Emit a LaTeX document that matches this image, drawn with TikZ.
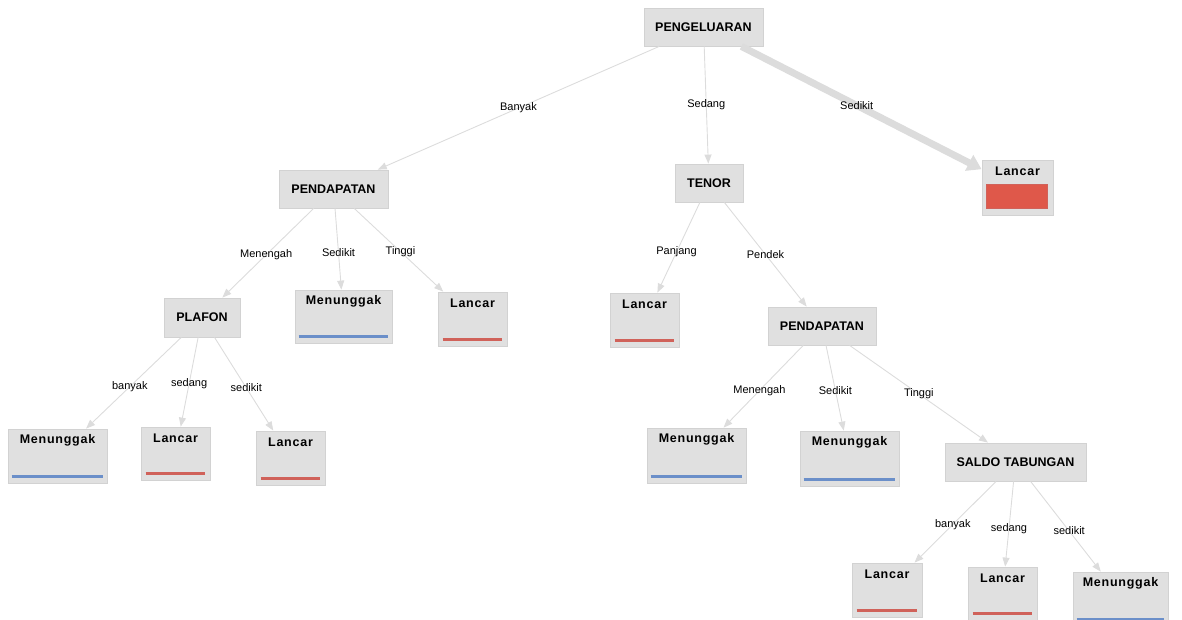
\documentclass[tikz,border=0pt]{standalone}
\usepackage{fontspec}
\setmainfont{Liberation Sans}
\usetikzlibrary{arrows.meta}
\definecolor{boxfill}{HTML}{E0E0E0}
\definecolor{boxline}{HTML}{D2D2D2}
\definecolor{edgecol}{HTML}{DCDCDC}
\definecolor{redbar}{HTML}{DF584A}
\definecolor{redline}{HTML}{D0625A}
\definecolor{blueline}{HTML}{6B8FC9}
\tikzset{
  inner/.style={draw=boxline, fill=boxfill, line width=0.8pt, inner sep=0pt,
    font=\bfseries\fontsize{12.5}{14}\selectfont},
  leaf/.style={draw=boxline, fill=boxfill, line width=0.8pt, inner sep=0pt},
  leaftext/.style={font=\bfseries\fontsize{12.5}{14}\selectfont\addfontfeature{LetterSpace=6}, inner sep=0pt},
  edge/.style={draw=edgecol, line width=0.9pt, -{Triangle[width=7pt,length=9pt]}},
  thickedge/.style={draw=edgecol, line width=7pt, -{Triangle[width=17pt,length=14pt]}},
  elabel/.style={font=\fontsize{11}{12}\selectfont, inner sep=1pt, text=black},
  rline/.style={draw=redline, line width=2.2pt},
  bline/.style={draw=blueline, line width=2.6pt},
}
\begin{document}
\begin{tikzpicture}[x=1pt,y=-1pt]
\useasboundingbox (0,0) rectangle (1182,620);
% internal nodes
\node[inner, minimum width=119, minimum height=38] (root) at (703.5,27) {PENGELUARAN};
\node[inner, minimum width=109, minimum height=38] (p1) at (333.5,189) {PENDAPATAN};
\node[inner, minimum width=68, minimum height=38] (tenor) at (709,183) {TENOR};
\node[inner, minimum width=76, minimum height=39] (plafon) at (202,317.5) {PLAFON};
\node[inner, minimum width=108, minimum height=38] (p2) at (822,326) {PENDAPATAN};
\node[inner, minimum width=141, minimum height=38] (saldo) at (1015.5,462) {SALDO TABUNGAN};
% leaves
\node[leaf, minimum width=71, minimum height=55] (lred) at (1017.5,187.5) {};
\node[leaf, minimum width=97, minimum height=53] (mA) at (343.5,316.5) {};
\node[leaf, minimum width=69, minimum height=54] (lA) at (472.5,319) {};
\node[leaf, minimum width=69, minimum height=54] (lB) at (644.5,320) {};
\node[leaf, minimum width=99, minimum height=54] (mB) at (57.5,456) {};
\node[leaf, minimum width=69, minimum height=53] (lC) at (175.5,453.5) {};
\node[leaf, minimum width=69, minimum height=54] (lD) at (290.5,458) {};
\node[leaf, minimum width=99, minimum height=55] (mC) at (696.5,455.5) {};
\node[leaf, minimum width=99, minimum height=55] (mD) at (849.5,458.5) {};
\node[leaf, minimum width=70, minimum height=54] (lE) at (887,590) {};
\node[leaf, minimum width=69, minimum height=53] (lF) at (1002.5,593.5) {};
\node[leaf, minimum width=95, minimum height=50] (mE) at (1120.5,597) {};
% leaf titles
\foreach \n/\t in {lred/Lancar, mA/Menunggak, lA/Lancar, lB/Lancar, mB/Menunggak, lC/Lancar, lD/Lancar, mC/Menunggak, mD/Menunggak, lE/Lancar, lF/Lancar, mE/Menunggak}
  \node[leaftext] (\n-t) at ([yshift=-12pt]\n.north) {\t};
% red bar
\node[draw=redline, fill=redbar, line width=0.8pt, minimum width=61, minimum height=24, inner sep=0pt] (bar) at (1016.5,196) {};
% leaf lines
\foreach \n in {lA, lB, lC, lD, lE, lF}
  \draw[rline] ([xshift=5pt,yshift=7pt]\n.south west) -- ([xshift=-5pt,yshift=7pt]\n.south east);
\foreach \n in {mA, mB, mC, mD}
  \draw[bline] ([xshift=4pt,yshift=7pt]\n.south west) -- ([xshift=-4pt,yshift=7pt]\n.south east);
\draw[bline] ([xshift=4pt,yshift=3pt]mE.south west) -- ([xshift=-4pt,yshift=3pt]mE.south east);
% edges
\draw[edge] (root) -- node[elabel, pos=0.5] {Banyak} (p1);
\draw[edge] (root) -- node[elabel, pos=0.5] {Sedang} (tenor);
\draw[thickedge] (root) -- node[elabel, pos=0.48] {Sedikit} (lred);
\draw[edge] (p1) -- node[elabel, pos=0.52] {Menengah} (plafon);
\draw[edge] (p1) -- node[elabel, pos=0.55] {Sedikit} (mA);
\draw[edge] (p1) -- node[elabel, pos=0.52] {Tinggi} (lA);
\draw[edge] (plafon) -- node[elabel, pos=0.54] {banyak} (mB);
\draw[edge] (plafon) -- node[elabel, pos=0.52] {sedang} (lC);
\draw[edge] (plafon) -- node[elabel, pos=0.54] {sedikit} (lD);
\draw[edge] (tenor) -- node[elabel, pos=0.55] {Panjang} (lB);
\draw[edge] (tenor) -- node[elabel, pos=0.5] {Pendek} (p2);
\draw[edge] (p2) -- node[elabel, pos=0.55] {Menengah} (mC);
\draw[edge] (p2) -- node[elabel, pos=0.53] {Sedikit} (mD);
\draw[edge] (p2) -- node[elabel, pos=0.5] {Tinggi} (saldo);
\draw[edge] (saldo) -- node[elabel, pos=0.53] {banyak} (lE);
\draw[edge] (saldo) -- node[elabel, pos=0.55] {sedang} (lF);
\draw[edge] (saldo) -- node[elabel, pos=0.55] {sedikit} (mE);
\end{tikzpicture}
\end{document}
